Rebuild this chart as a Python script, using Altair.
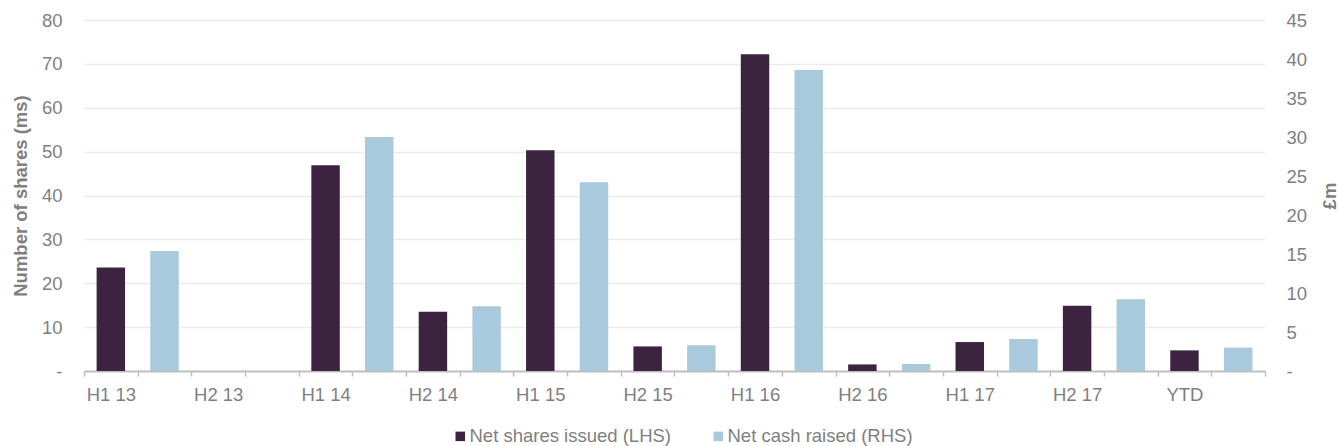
import json

import altair as alt
import pandas as pd

# Half-year periods and the two series (shares on the left axis, cash on the right)
periods = ["H1 13", "H2 13", "H1 14", "H2 14", "H1 15", "H2 15",
           "H1 16", "H2 16", "H1 17", "H2 17", "YTD"]
net_shares_ms = [23.6, 0, 46.9, 13.5, 50.3, 5.6, 72.2, 1.5, 6.6, 14.9, 4.7]
net_cash_gbp_m = [15.4, 0, 30.0, 8.3, 24.2, 3.3, 38.6, 0.9, 4.1, 9.2, 3.0]

series_names = ["Net shares issued (LHS)", "Net cash raised (RHS)"]
series_colors = ["#3C2340", "#A9C9DC"]

left_ticks = list(range(0, 81, 10))
right_ticks = list(range(0, 46, 5))

# Each period takes two slots on the x axis: shares bar, then cash bar
shares_df = pd.DataFrame({
    "slot": [2 * i for i in range(len(periods))],
    "period": periods,
    "series": series_names[0],
    "shares": net_shares_ms,
})
cash_df = pd.DataFrame({
    "slot": [2 * i + 1 for i in range(len(periods))],
    "period": periods,
    "series": series_names[1],
    "cash": net_cash_gbp_m,
})

FONT = "Liberation Sans"
FS = 18.5
GREY = "#7f7f7f"
AXIS_GREY = "#bfbfbf"

n_slots = 2 * len(periods)
x_label_expr = (
    "datum.value % 2 == 0 ? " + json.dumps(periods) + "[datum.value / 2] : ''"
)

x_enc = alt.X(
    "slot:O",
    scale=alt.Scale(domain=list(range(n_slots)), paddingInner=0, paddingOuter=0),
    axis=alt.Axis(
        title=None,
        labelExpr=x_label_expr,
        labelAngle=0,
        tickBand="extent",
        tickSize=5,
        tickColor=AXIS_GREY,
        tickWidth=1.5,
        domainColor=AXIS_GREY,
        domainWidth=2,
        labelPadding=9,
        grid=False,
    ),
)

legend = alt.Legend(
    title=None,
    orient="none",
    direction="horizontal",
    legendX=367,
    legendY=407,
    symbolType="square",
    symbolSize=90,
    symbolStrokeWidth=0,
    labelOffset=0,
    labelLimit=0,
    columnPadding=37,
    labelFontSize=FS,
    labelColor=GREY,
    labelFont=FONT,
)

color_enc = alt.Color(
    "series:N",
    scale=alt.Scale(domain=series_names, range=series_colors),
    legend=legend,
)

shares_bars = alt.Chart(shares_df).mark_bar(width=alt.RelativeBandSize(0.53)).encode(
    x=x_enc,
    y=alt.Y(
        "shares:Q",
        scale=alt.Scale(domain=[0, 80], nice=False),
        axis=alt.Axis(
            values=left_ticks,
            title="Number of shares (ms)",
            titleAngle=270,
            titleAlign="center",
            titleBaseline="middle",
            titleX=-64,
            titleY=175.5,
            labelExpr="datum.value == 0 ? '-\u00a0\u00a0' : datum.label",
            ticks=False,
            domain=False,
            labelPadding=22,
            grid=True,
            gridColor="#ebebeb",
            gridWidth=1.5,
        ),
    ),
    color=color_enc,
)

cash_bars = alt.Chart(cash_df).mark_bar(width=alt.RelativeBandSize(0.53)).encode(
    x=x_enc,
    y=alt.Y(
        "cash:Q",
        scale=alt.Scale(domain=[0, 45], nice=False),
        axis=alt.Axis(
            orient="right",
            values=right_ticks,
            title="£m",
            titleAngle=270,
            titleAlign="center",
            titleBaseline="middle",
            titleX=64,
            titleY=175.5,
            labelExpr="datum.value == 0 ? '-' : datum.label",
            ticks=False,
            domain=False,
            labelPadding=21,
            grid=False,
        ),
    ),
    color=color_enc,
)

chart = (
    alt.layer(shares_bars, cash_bars)
    .resolve_scale(y="independent")
    .properties(
        width=1181,
        height=351,
        autosize=alt.AutoSizeParams(type="none"),
        padding={"left": 84, "top": 20, "right": 73, "bottom": 75},
        background="white",
    )
    .configure_view(stroke=None)
    .configure_axis(
        labelFont=FONT,
        labelFontSize=FS,
        labelColor=GREY,
        titleFont=FONT,
        titleFontSize=FS,
        titleFontWeight="bold",
        titleColor=GREY,
    )
)

chart.save("out.html", embed_options={"renderer": "svg", "actions": False})
